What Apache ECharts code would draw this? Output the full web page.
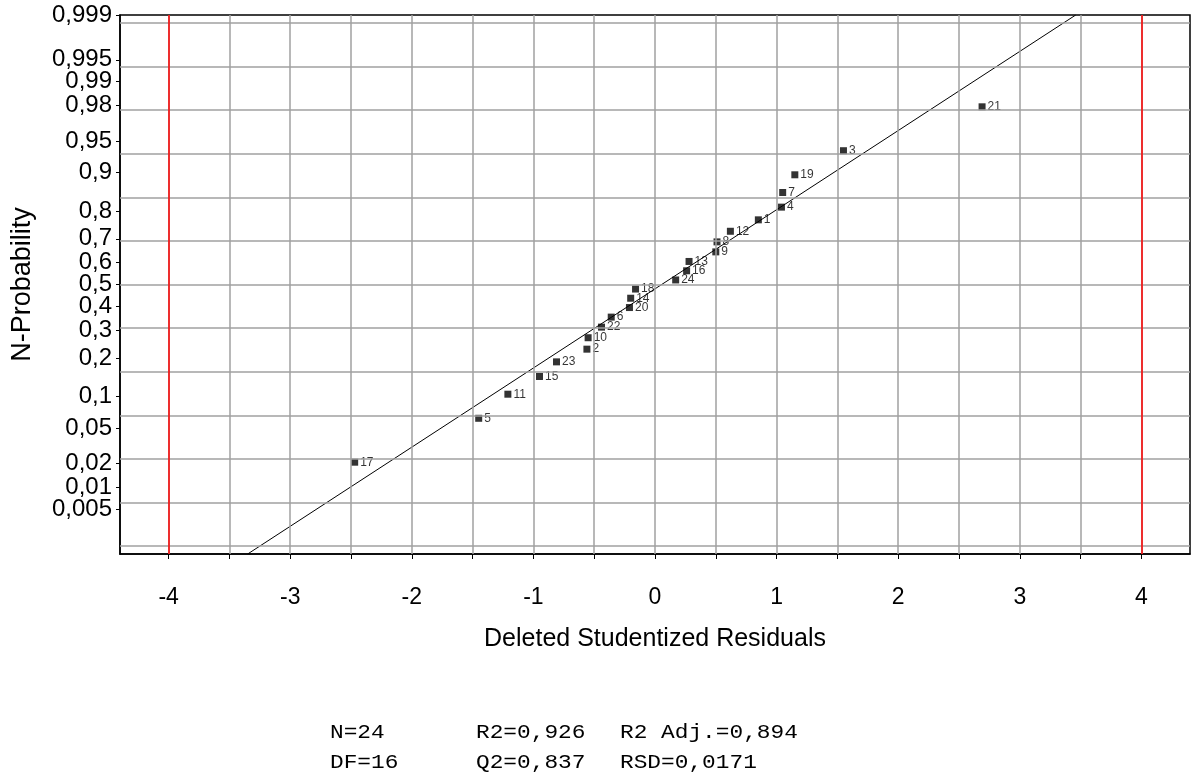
<!DOCTYPE html>
<html>
<head>
<meta charset="utf-8">
<title>N-Probability plot of deleted studentized residuals</title>
<script src="https://cdn.jsdelivr.net/npm/echarts@6/dist/echarts.min.js"></script>
<style>
  html, body { margin: 0; padding: 0; background: #fff; }
  #chart { width: 1192px; height: 772px; }
</style>
</head>
<body>
<div id="chart"></div>
<script>
// Run numbers, ordered by residual
const runIds = [17, 5, 11, 15, 23, 2, 10, 22, 6, 20, 14, 18, 24, 16, 13, 9, 8, 12, 1, 4, 7, 19, 3, 21];
// Deleted studentized residual of each run
const residuals = [-2.47, -1.45, -1.21, -0.95, -0.81, -0.56, -0.55, -0.44, -0.36, -0.21, -0.20, -0.16,
                   0.17, 0.26, 0.28, 0.50, 0.51, 0.62, 0.85, 1.04, 1.05, 1.15, 1.55, 2.69];
// Normal probability (plotting position) of each run
const probabilities = [0.0208, 0.0625, 0.1042, 0.1458, 0.1875, 0.2292, 0.2708, 0.3125, 0.3542, 0.3958, 0.4375, 0.4792,
                       0.5208, 0.5625, 0.6042, 0.6458, 0.6875, 0.7292, 0.7708, 0.8125, 0.8542, 0.8958, 0.9375, 0.9792];

// Reference line end points (residual, probability)
const fitX = [-3.35, 3.46];
const fitP = [0.001, 0.999];

// Axis ticks
const probTicks = [0.005, 0.01, 0.02, 0.05, 0.1, 0.2, 0.3, 0.4, 0.5, 0.6, 0.7, 0.8, 0.9, 0.95, 0.98, 0.99, 0.995, 0.999];
const probTickLabels = ['0,005', '0,01', '0,02', '0,05', '0,1', '0,2', '0,3', '0,4', '0,5', '0,6', '0,7', '0,8', '0,9', '0,95', '0,98', '0,99', '0,995', '0,999'];
const xLabelValues = [-4, -3, -2, -1, 0, 1, 2, 3, 4];
const xTickValues = [-4, -3.5, -3, -2.5, -2, -1.5, -1, -0.5, 0, 0.5, 1, 1.5, 2, 2.5, 3, 3.5, 4];
// Grid lines: residual units and normal-score units
const vGridX = [-4, -3.5, -3, -2.5, -2, -1.5, -1, -0.5, 0, 0.5, 1, 1.5, 2, 2.5, 3, 3.5, 4];
const hGridZ = [-3, -2.5, -2, -1.5, -1, -0.5, 0, 0.5, 1, 1.5, 2, 2.5, 3];
// Critical limits for the residuals
const residualLimits = [-4, 4];
const probRange = [0.001, 0.999];

// Model statistics, one array per row
const statsRow1 = ['N=24', 'R2=0,926', 'R2 Adj.=0,894'];
const statsRow2 = ['DF=16', 'Q2=0,837', 'RSD=0,0171'];

// Inverse standard normal CDF (Acklam's rational approximation)
function probit(p) {
  const a = [-3.969683028665376e+01, 2.209460984245205e+02, -2.759285104469687e+02, 1.383577518672690e+02, -3.066479806614716e+01, 2.506628277459239e+00];
  const b = [-5.447609879822406e+01, 1.615858368580409e+02, -1.556989798598866e+02, 6.680131188771972e+01, -1.328068155288572e+01];
  const c = [-7.784894002430293e-03, -3.223964580411365e-01, -2.400758277161838e+00, -2.549732539343734e+00, 4.374664141464968e+00, 2.938163982698783e+00];
  const d = [7.784695709041462e-03, 3.224671290700398e-01, 2.445134137142996e+00, 3.754408661907416e+00];
  const pl = 0.02425, ph = 1 - pl;
  let q, r;
  if (p < pl) {
    q = Math.sqrt(-2 * Math.log(p));
    return (((((c[0] * q + c[1]) * q + c[2]) * q + c[3]) * q + c[4]) * q + c[5]) /
           ((((d[0] * q + d[1]) * q + d[2]) * q + d[3]) * q + 1);
  }
  if (p <= ph) {
    q = p - 0.5; r = q * q;
    return (((((a[0] * r + a[1]) * r + a[2]) * r + a[3]) * r + a[4]) * r + a[5]) * q /
           (((((b[0] * r + b[1]) * r + b[2]) * r + b[3]) * r + b[4]) * r + 1);
  }
  q = Math.sqrt(-2 * Math.log(1 - p));
  return -(((((c[0] * q + c[1]) * q + c[2]) * q + c[3]) * q + c[4]) * q + c[5]) /
          ((((d[0] * q + d[1]) * q + d[2]) * q + d[3]) * q + 1);
}

const zMin = probit(probRange[0]);
const zMax = probit(probRange[1]);
const probTickZ = probTicks.map(probit);
// A blank label sits at the axis minimum so the crowded 0,005 / 0,01 pair both stay visible
const yLabelValues = [zMin].concat(probTickZ);
function probLabel(v) {
  if (Math.abs(v - zMin) < 1e-9) return '';
  let best = 0;
  for (let i = 1; i < probTickZ.length; i++) {
    if (Math.abs(probTickZ[i] - v) < Math.abs(probTickZ[best] - v)) best = i;
  }
  return probTickLabels[best];
}

const sansFont = '"Liberation Sans", Arial, sans-serif';
const monoFont = '"Liberation Mono", "Courier New", monospace';

const pointData = residuals.map((x, i) => ({ value: [x, probit(probabilities[i])], id: runIds[i] }));
const fitData = fitX.map((x, i) => [x, probit(fitP[i])]);

const chart = echarts.init(document.getElementById('chart'), null, { renderer: 'canvas' });

const statsCols = [330, 476, 620];
const statsRowsY = [733, 763];
const statsGraphics = [];
[statsRow1, statsRow2].forEach((row, r) => {
  row.forEach((txt, c) => {
    statsGraphics.push({
      type: 'text',
      x: statsCols[c],
      y: statsRowsY[r],
      scaleX: 1.14,
      style: { text: txt, font: '20px ' + monoFont, fill: '#000', textVerticalAlign: 'middle', textAlign: 'left' },
      silent: true
    });
  });
});

const option = {
  animation: false,
  backgroundColor: '#ffffff',
  grid: {
    left: 120, right: 2, top: 15, bottom: 218,
    show: true, borderColor: '#000', borderWidth: 1.5, backgroundColor: '#fff',
    outerBoundsMode: 'none', containLabel: false
  },
  xAxis: {
    type: 'value',
    min: -4.4, max: 4.4,
    name: 'Deleted Studentized Residuals',
    nameLocation: 'middle',
    nameGap: 73,
    nameTextStyle: { fontFamily: sansFont, fontSize: 25, color: '#000' },
    axisLine: { show: true, onZero: false, lineStyle: { color: '#000', width: 1.5 } },
    axisTick: { show: true, customValues: xTickValues, length: 5, lineStyle: { color: '#000', width: 1 } },
    axisLabel: {
      customValues: xLabelValues,
      formatter: v => String(v),
      margin: 32,
      hideOverlap: false,
      fontFamily: sansFont, fontSize: 23, color: '#000'
    },
    splitLine: { show: false }
  },
  yAxis: {
    type: 'value',
    min: zMin, max: zMax,
    name: 'N-Probability',
    nameLocation: 'middle',
    nameGap: 84,
    nameTextStyle: { fontFamily: sansFont, fontSize: 27, color: '#000' },
    axisLine: { show: true, onZero: false, lineStyle: { color: '#000', width: 1.5 } },
    axisTick: { show: true, customValues: probTickZ, length: 4, lineStyle: { color: '#000', width: 1 } },
    axisLabel: {
      customValues: yLabelValues,
      formatter: probLabel,
      margin: 8,
      hideOverlap: false,
      showMinLabel: true, showMaxLabel: true,
      fontFamily: sansFont, fontSize: 24, color: '#000'
    },
    splitLine: { show: false }
  },
  graphic: statsGraphics,
  series: [
    {
      name: 'grid',
      type: 'line',
      data: [],
      silent: true,
      z: 1,
      markLine: {
        silent: true,
        animation: false,
        symbol: ['none', 'none'],
        label: { show: false },
        emphasis: { disabled: true },
        lineStyle: { color: '#a0a0a0', width: 1.5, type: 'solid' },
        data: vGridX.map(v => ({ xAxis: v })).concat(hGridZ.map(v => ({ yAxis: v })))
      }
    },
    {
      name: 'limits',
      type: 'line',
      data: [],
      silent: true,
      z: 2,
      markLine: {
        silent: true,
        animation: false,
        symbol: ['none', 'none'],
        label: { show: false },
        emphasis: { disabled: true },
        lineStyle: { color: '#ff0000', width: 1.5, type: 'solid' },
        data: residualLimits.map(v => ({ xAxis: v }))
      }
    },
    {
      name: 'normal line',
      type: 'line',
      data: fitData,
      z: 3,
      silent: true,
      showSymbol: false,
      symbol: 'none',
      lineStyle: { color: '#000', width: 1 }
    },
    {
      name: 'residuals',
      type: 'scatter',
      data: pointData,
      z: 4,
      symbol: 'rect',
      symbolSize: 7,
      itemStyle: { color: '#000' },
      label: {
        show: true,
        position: 'right',
        distance: 2,
        formatter: p => String(p.data.id),
        fontFamily: sansFont,
        fontSize: 12,
        color: '#000'
      },
      labelLayout: { hideOverlap: false }
    }
  ]
};

chart.setOption(option);
</script>
</body>
</html>
